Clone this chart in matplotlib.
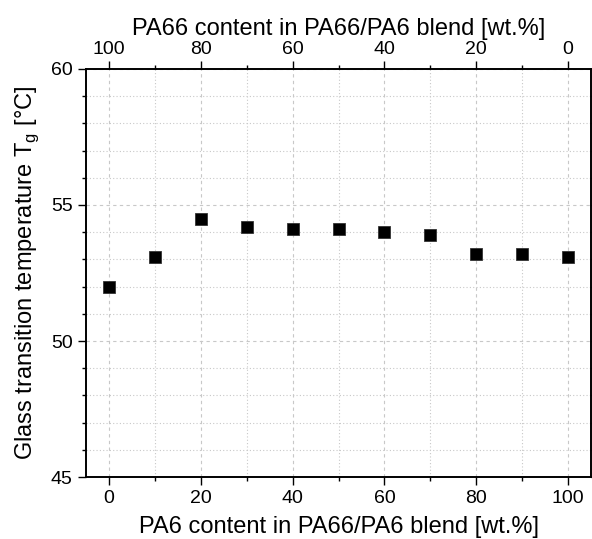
import numpy as np
import matplotlib
matplotlib.use('Agg')
import matplotlib.pyplot as plt
from matplotlib.ticker import MultipleLocator

# PA6 content [wt.%] and glass transition temperature
pa6 = [0, 10, 20, 30, 40, 50, 60, 70, 80, 90, 100]
tg = [52.0, 53.1, 54.5, 54.2, 54.1, 54.1, 54.0, 53.9, 53.2, 53.2, 53.1]
top_ticks = [0, 20, 40, 60, 80, 100]
top_labels = ['100', '80', '60', '40', '20', '0']

plt.rcParams['font.family'] = ['Liberation Sans', 'DejaVu Sans']
plt.rcParams['mathtext.fontset'] = 'custom'
plt.rcParams['mathtext.rm'] = 'Liberation Sans'

fig = plt.figure(figsize=(5.92, 5.39), dpi=100)
ax = fig.add_axes([0.1453, 0.115, 0.853, 0.757])

ax.plot(pa6, tg, 's', color='black', ms=8.5, mec='#333333', mew=0.6, zorder=3)

ax.set_xlim(-5, 105)
ax.set_ylim(45, 60)
ax.xaxis.set_major_locator(MultipleLocator(20))
ax.xaxis.set_minor_locator(MultipleLocator(10))
ax.yaxis.set_major_locator(MultipleLocator(5))
ax.yaxis.set_minor_locator(MultipleLocator(1))

ax.grid(which='major', color='#c8c8c8', linestyle=(0, (3, 3)), linewidth=0.8)
ax.grid(which='minor', color='#c8c8c8', linestyle=(0, (1, 2)), linewidth=0.8)
ax.set_axisbelow(True)

ax.tick_params(which='major', direction='out', length=6, width=1, labelsize=14)
ax.tick_params(which='minor', direction='out', length=3, width=1)
ax.tick_params(axis='y', which='both', right=True)

ax.set_xlabel('PA6 content in PA66/PA6 blend [wt.%]', fontsize=17, labelpad=6)
ax.set_ylabel('Glass transition temperature T$_\\mathrm{g}$ [°C]', fontsize=17, labelpad=7)

ax2 = ax.twiny()
ax2.set_xlim(ax.get_xlim())
ax2.set_xticks(top_ticks)
ax2.set_xticklabels(top_labels)
ax2.xaxis.set_minor_locator(MultipleLocator(10))
ax2.tick_params(which='major', direction='out', length=6, width=1, labelsize=14, pad=2)
ax2.tick_params(which='minor', direction='out', length=3, width=1)
ax2.set_xlabel('PA66 content in PA66/PA6 blend [wt.%]', fontsize=17, labelpad=4)

for a in (ax, ax2):
    for s in a.spines.values():
        s.set_linewidth(1.2)

fig.savefig('out.png', dpi=100)
